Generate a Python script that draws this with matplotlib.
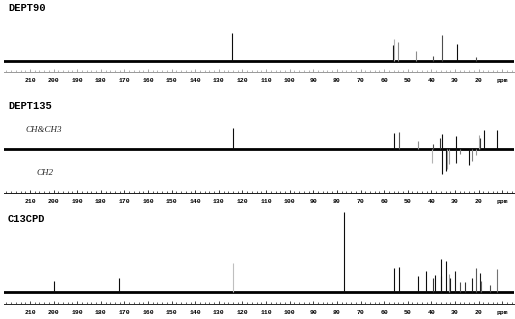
import matplotlib
matplotlib.use("Agg")
import matplotlib.pyplot as plt
from matplotlib.ticker import FixedLocator, FixedFormatter, MultipleLocator

# peak positions (ppm) and heights (arbitrary units, baseline = 0)
dept90_ppm = [124.3, 56.4, 55.9, 54.3, 46.4, 39.1, 35.7, 29.1, 21.1]
dept90_int = [28, 16, 22, 19, 10, 5, 26, 17, 4]

dept135_ppm = [124.2, 56.0, 53.9, 45.8, 39.7, 39.1, 36.2, 35.7, 35.5, 34.0, 33.4,
               32.4, 29.6, 29.4, 28.0, 24.2, 22.8, 21.1, 20.0, 19.3, 17.5, 12.0]
dept135_int = [21, 16, 17, 8, -14, 5, 11, 15, -25, -22, -20,
               -15, -14, 12.5, -5, -16, -12, -6, 14, 11, 19, 19]

cpd_ppm = [200.0, 172.2, 124.2, 77.1, 56.0, 53.9, 45.8, 42.4, 39.5, 38.6, 36.1,
           35.8, 34.0, 32.7, 32.0, 29.9, 28.0, 25.9, 23.0, 21.0, 19.6, 18.9,
           15.3, 12.0]
cpd_int = [11, 14, 29, 80, 24, 25, 16, 21, 14, 17, 16,
           33, 31, 18, 14, 21, 10, 10, 14, 24, 19, 11,
           7, 23]

tick_ppm = [210, 200, 190, 180, 170, 160, 150, 140, 130, 120, 110, 100,
            90, 80, 70, 60, 50, 40, 30, 20, 10]
tick_text = [str(t) for t in tick_ppm[:-1]] + ["ppm"]

# line shades (0 = black)
dept90_shade = [0.05, 0.05, 0.7, 0.55, 0.55, 0.3, 0.3, 0.05, 0.3]
dept135_shade = [0.05, 0.05, 0.35, 0.55, 0.7, 0.3, 0.2, 0.05, 0.05, 0.05, 0.6,
                 0.6, 0.1, 0.05, 0.5, 0.05, 0.5, 0.6, 0.65, 0.2, 0.05, 0.05]
cpd_shade = [0.05, 0.05, 0.75, 0.05, 0.05, 0.05, 0.05, 0.05, 0.2, 0.05, 0.1,
             0.05, 0.05, 0.6, 0.1, 0.1, 0.3, 0.2, 0.1, 0.35, 0.1, 0.4,
             0.3, 0.45]

W, H = 515, 319
fig = plt.figure(figsize=(W / 100, H / 100), dpi=100)
fig.patch.set_facecolor("white")


def panel(top, bottom, base, ppm, inten, shade, axis_color):
    ax = fig.add_axes([4 / W, 1 - bottom / H, 510 / W, (bottom - top) / H])
    ax.patch.set_alpha(0)
    ax.set_xlim(221, 5)
    ax.set_ylim(-(bottom - base), base - top)
    ax.axhline(0, color="black", lw=2.0, zorder=1)
    for p, v, s in zip(ppm, inten, shade):
        ax.vlines(p, 0, v, color=str(s), lw=0.8, zorder=2)
    for side in ["top", "left", "right"]:
        ax.spines[side].set_visible(False)
    ax.spines["bottom"].set_color(axis_color)
    ax.spines["bottom"].set_linewidth(0.7)
    ax.set_yticks([])
    ax.xaxis.set_major_locator(FixedLocator(tick_ppm))
    ax.xaxis.set_major_formatter(FixedFormatter(tick_text))
    ax.xaxis.set_minor_locator(MultipleLocator(2))
    ax.tick_params(axis="x", which="major", direction="in", length=2.2, width=0.6,
                   color=axis_color, pad=4.5, labelsize=4.6)
    ax.tick_params(axis="x", which="minor", direction="in", length=1.2, width=0.5,
                   color=axis_color)
    for lab in ax.get_xticklabels():
        lab.set_fontfamily("Liberation Mono")
        lab.set_fontweight("bold")
    return ax


panel(15, 71.5, 60.5, dept90_ppm, dept90_int, dept90_shade, "0.6")
panel(115, 193, 148.5, dept135_ppm, dept135_int, dept135_shade, "0.1")
panel(205, 304, 292, cpd_ppm, cpd_int, cpd_shade, "0.15")

title_kw = dict(fontfamily="Liberation Mono", fontweight="bold", fontsize=7.5,
                va="center", ha="left")
fig.text(8 / W, 1 - 8 / H, "DEPT90", **title_kw)
fig.text(8 / W, 1 - 106 / H, "DEPT135", **title_kw)
fig.text(8 / W, 1 - 219 / H, "C13CPD", **title_kw)

label_kw = dict(fontfamily="Liberation Serif", fontstyle="italic", fontsize=6.5,
                va="center", ha="left", color="0.15")
fig.text(25 / W, 1 - 130 / H, "CH&CH3", **label_kw)
fig.text(37 / W, 1 - 173 / H, "CH2", **label_kw)

fig.savefig("out.png", dpi=100)
